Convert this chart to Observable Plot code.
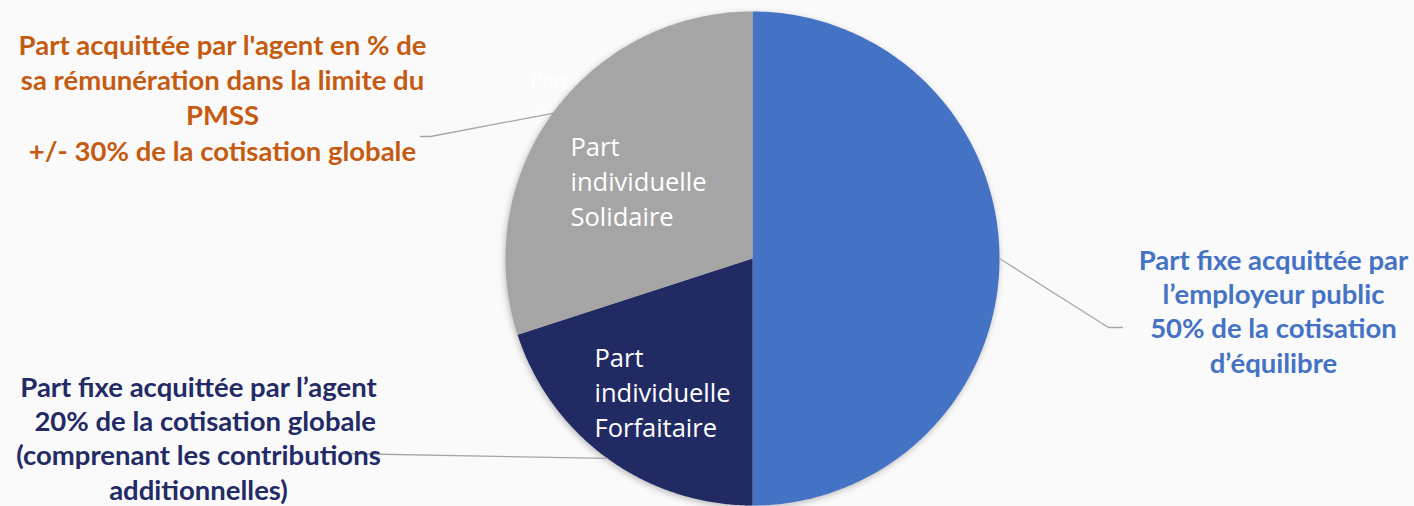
<!DOCTYPE html>
<html><head><meta charset="utf-8">
<script src="https://cdn.jsdelivr.net/npm/d3@7"></script>
<script src="https://cdn.jsdelivr.net/npm/@observablehq/plot@0.6"></script>
<style>html,body{margin:0;padding:0;background:#fafafa;overflow:hidden;}</style>
</head><body><div id="chart"></div>
<script>
// ---- data ----
const categories = ["Part fixe employeur public", "Part individuelle Forfaitaire", "Part individuelle Solidaire"];
const shares = [50, 20, 30];
const innerLabels = ["", "Part\nindividuelle\nForfaitaire", "Part\nindividuelle\nSolidaire"];
const outerLabels = [
  "Part fixe acquittée par\nl\u2019employeur public\n50% de la cotisation\nd\u2019équilibre",
  "Part fixe acquittée par l\u2019agent\n  20% de la cotisation globale\n(comprenant les contributions\nadditionnelles)",
  "Part acquittée par l'agent en % de\nsa rémunération dans la limite du\nPMSS\n+/- 30% de la cotisation globale"
];

// ---- layout & style ----
const W = 1414, H = 506, cx = 752, cy = 258, R = 247;
const sliceColors = ["#4472C4", "#222A64", "#A5A5A5"];
const labelColors = ["#4472C4", "#232B66", "#C55A11"];
const innerPos = [null, {x: 594, y: 390}, {x: 570, y: 179}];
const outerPos = [{x: 1273, y: 310}, {x: 198, y: 437}, {x: 222, y: 96}];
const outerLH = [1.24, 1.24, 1.28];
const elbows = [[{x: 1108, y: 327}, {x: 1122, y: 327}], [{x: 340, y: 453}], [{x: 430, y: 136}, {x: 420, y: 136}]];

const arcs = d3.pie().sort(null).value(d => d)(shares);
const polys = [];
arcs.forEach((a, i) => {
  polys.push({i, x: cx, y: cy});
  const n = 180;
  for (let k = 0; k <= n; k++) {
    const t = a.startAngle + (a.endAngle - a.startAngle) * k / n;
    polys.push({i, x: cx + R * Math.sin(t), y: cy - R * Math.cos(t)});
  }
  polys.push({i, x: cx, y: cy});
});
const leaders = [];
arcs.forEach((a, i) => {
  const m = (a.startAngle + a.endAngle) / 2;
  leaders.push({i, x: cx + R * Math.sin(m), y: cy - R * Math.cos(m)});
  elbows[i].forEach(p => leaders.push({i, ...p}));
});
const inner = arcs.map((a, i) => ({i, text: innerLabels[i], ...(innerPos[i] || {x: 0, y: 0})})).filter(d => d.text);
const outer = arcs.map((a, i) => ({i, text: outerLabels[i], ...outerPos[i]}));

const chart = Plot.plot({
  width: W, height: H, margin: 0,
  style: {background: "#fafafa"},
  x: {type: "identity", axis: null},
  y: {type: "identity", axis: null},
  marks: [
    Plot.text([{x: 530, y: 92}], {x: "x", y: "y", text: () => "Part individuelle\nSolidaire", textAnchor: "start", fill: "white", fontSize: 20, lineHeight: 1.3, fontFamily: "Open Sans"}),
    Plot.line(polys, {x: "x", y: "y", z: "i", fill: d => sliceColors[d.i], stroke: "none", imageFilter: "drop-shadow(-1px 2px 3px rgba(0,0,0,0.25))"}),
    Plot.line(leaders, {x: "x", y: "y", z: "i", stroke: "#a6a6a6", strokeWidth: 1.3}),
    Plot.text(inner, {x: "x", y: "y", text: "text", textAnchor: "start", fill: "white", fontSize: 25.5, lineHeight: 1.37, fontFamily: "Open Sans"}),
    ...outer.map(d => Plot.text([d], {x: "x", y: "y", text: "text", textAnchor: "middle", fill: labelColors[d.i], fontSize: 27.5, fontWeight: "bold", lineHeight: outerLH[d.i], fontFamily: "Lato"}))
  ]
});
document.getElementById("chart").appendChild(chart);
</script>
</body></html>
